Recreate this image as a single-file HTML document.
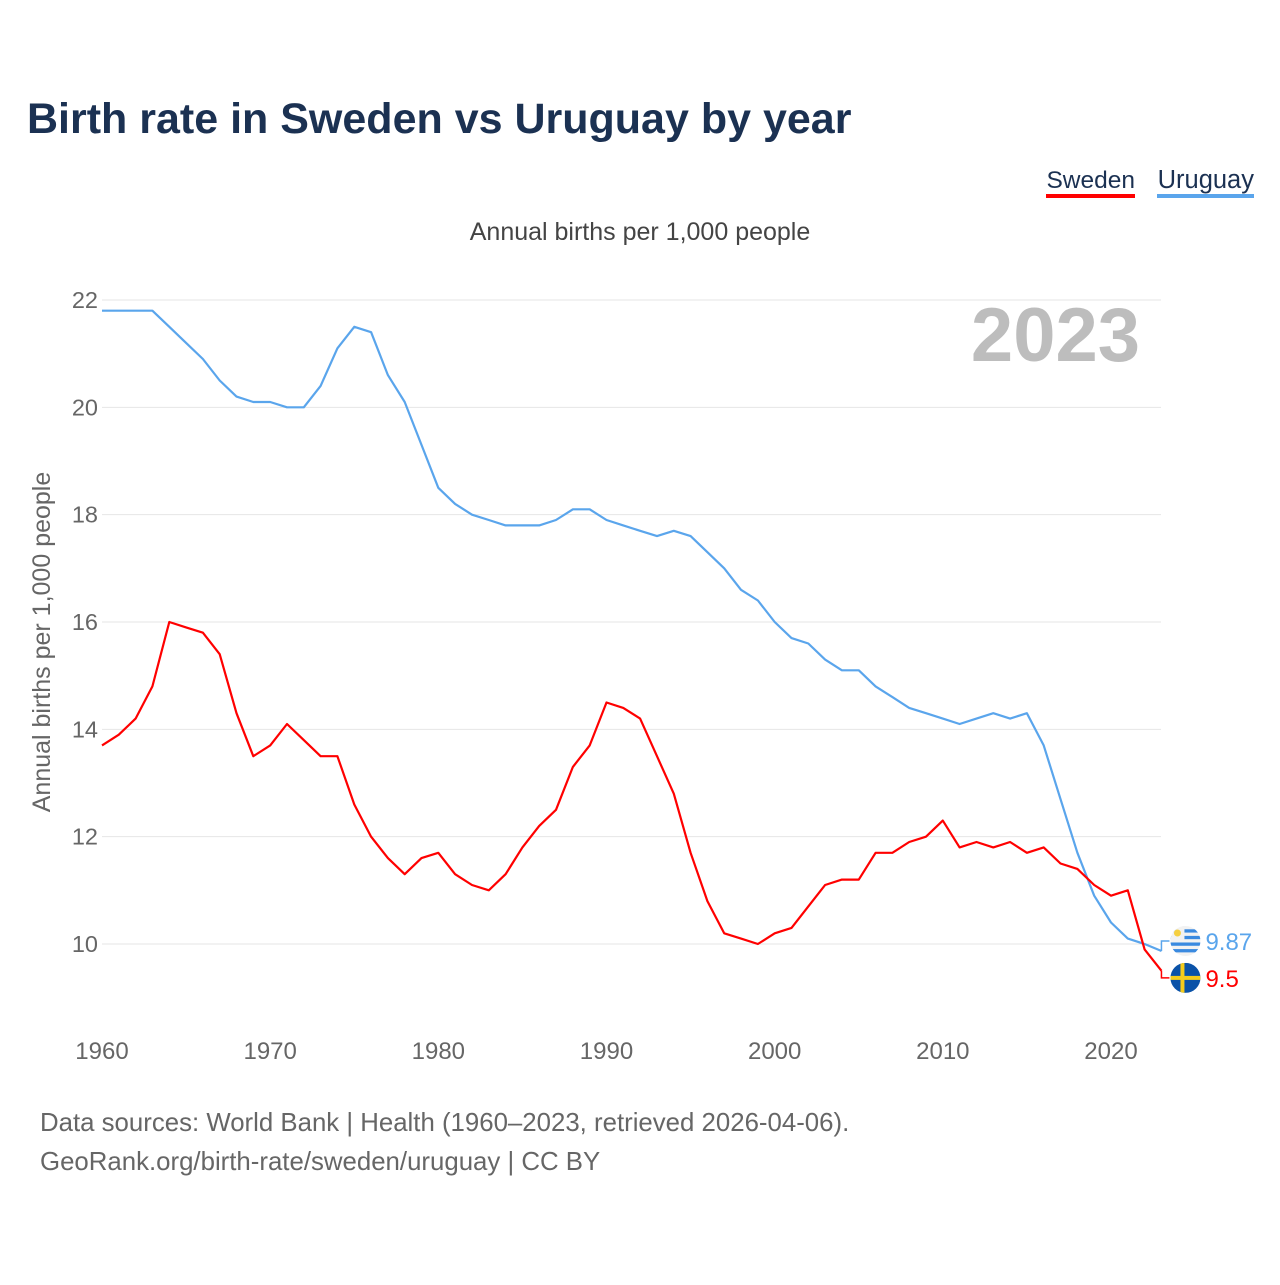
<!DOCTYPE html>
<html><head><meta charset="utf-8"><style>
body{margin:0;background:#fff;font-family:"Liberation Sans",sans-serif}
svg text{font-family:"Liberation Sans",sans-serif}
</style></head><body>
<svg id="chart" width="1280" height="1280" viewBox="0 0 1280 1280">
<text x="27" y="133" font-size="43" font-weight="bold" fill="#1b3152">Birth rate in Sweden vs Uruguay by year</text>
<g><text x="1135" y="188" font-size="24.5" fill="#1b3152" text-anchor="end">Sweden</text><rect x="1046" y="194" width="89" height="4" fill="#ff0000"/></g>
<g><text x="1254" y="188" font-size="25.5" fill="#1b3152" text-anchor="end">Uruguay</text><rect x="1157" y="194" width="97" height="4" fill="#5aa5ec"/></g>
<text x="640" y="240" font-size="25" fill="#444" text-anchor="middle">Annual births per 1,000 people</text>
<text x="1140" y="361" font-size="76" font-weight="bold" fill="#bdbdbd" text-anchor="end">2023</text>
<text transform="translate(50,642) rotate(-90)" font-size="25" fill="#666" text-anchor="middle">Annual births per 1,000 people</text>
<g id="grid"></g><g id="yt"></g><g id="xt"></g><g id="lines"></g>
<text x="40" y="1131" font-size="25.8" fill="#666">Data sources: World Bank | Health (1960–2023, retrieved 2026-04-06).</text>
<text x="40" y="1170" font-size="25.8" fill="#666">GeoRank.org/birth-rate/sweden/uruguay | CC BY</text>
</svg>
<script>
const startYear = 1960;
const sweden = [13.7,13.9,14.2,14.8,16.0,15.9,15.8,15.4,14.3,13.5,13.7,14.1,13.8,13.5,13.5,12.6,12.0,11.6,11.3,11.6,11.7,11.3,11.1,11.0,11.3,11.8,12.2,12.5,13.3,13.7,14.5,14.4,14.2,13.5,12.8,11.7,10.8,10.2,10.1,10.0,10.2,10.3,10.7,11.1,11.2,11.2,11.7,11.7,11.9,12.0,12.3,11.8,11.9,11.8,11.9,11.7,11.8,11.5,11.4,11.1,10.9,11.0,9.9,9.5];
const uruguay = [21.8,21.8,21.8,21.8,21.5,21.2,20.9,20.5,20.2,20.1,20.1,20.0,20.0,20.4,21.1,21.5,21.4,20.6,20.1,19.3,18.5,18.2,18.0,17.9,17.8,17.8,17.8,17.9,18.1,18.1,17.9,17.8,17.7,17.6,17.7,17.6,17.3,17.0,16.6,16.4,16.0,15.7,15.6,15.3,15.1,15.1,14.8,14.6,14.4,14.3,14.2,14.1,14.2,14.3,14.2,14.3,13.7,12.7,11.7,10.9,10.4,10.1,10.0,9.87];
const yTicks = [10,12,14,16,18,20,22];
const xTicks = [1960,1970,1980,1990,2000,2010,2020];
const lastLabels = ["9.5","9.87"];
const NS="http://www.w3.org/2000/svg";
const X=y=>102+(y-1960)*(1111-102)/60;
const Y=v=>944-(v-10)*(944-300)/12;
function mk(t,a,p){const e=document.createElementNS(NS,t);for(const k in a)e.setAttribute(k,a[k]);p.appendChild(e);return e;}
const g=document.getElementById('grid'),yt=document.getElementById('yt'),xt=document.getElementById('xt'),L=document.getElementById('lines');
yTicks.forEach(v=>{
 const l=mk('line',{x1:102,x2:1161,y1:Y(v),y2:Y(v),stroke:'#e6e6e6','stroke-width':1},g);
 
 
 const t=mk('text',{x:98,y:Y(v)+8,'font-size':23.5,fill:'#666','text-anchor':'end'},yt);t.textContent=v;
 
 
});
xTicks.forEach(v=>{
 const t=mk('text',{x:X(v),y:1059,'font-size':24,fill:'#666','text-anchor':'middle'},xt);t.textContent=v;
 
 
});
function line(arr,color,name){
 const pts=arr.map((v,i)=>X(startYear+i).toFixed(1)+','+Y(v).toFixed(1)).join(' ');
 const p=mk('polyline',{points:pts,fill:'none',stroke:color,'stroke-width':2.2,'stroke-linejoin':'round'},L);
 
 
}
line(uruguay,'#5aa5ec','uruguay-line');
line(sweden,'#ff0000','sweden-line');
const lx=X(startYear+sweden.length-1);
const ys=Y(sweden[sweden.length-1]), yu=Y(uruguay[uruguay.length-1]);
const mid=(ys+yu)/2;
const lys=Math.max(ys+5,mid+17), lyu=Math.min(yu-10,mid-18);
mk('polyline',{points:`${lx},${ys} ${lx},${lys} ${lx+8},${lys}`,fill:'none',stroke:'#ff0000','stroke-width':1.5},L);
mk('polyline',{points:`${lx},${yu} ${lx},${lyu} ${lx+8},${lyu}`,fill:'none',stroke:'#5aa5ec','stroke-width':1.5},L);
const fu=mk('g',{},L);


const cpu=mk('clipPath',{id:'cu'},fu);
mk('circle',{cx:lx+24,cy:lyu,r:15},cpu);
const gu=mk('g',{'clip-path':'url(#cu)'},fu);
mk('rect',{x:lx+9,y:lyu-15,width:30,height:30,fill:'#f2f2f2'},gu);
for(let i=0;i<4;i++)mk('rect',{x:lx+9,y:lyu-15+3.3*(2*i+1),width:30,height:3.3,fill:'#3a8ae0'},gu);
mk('rect',{x:lx+9,y:lyu-15,width:14,height:14,fill:'#f2f2f2'},gu);
mk('circle',{cx:lx+16,cy:lyu-8,r:3.5,fill:'#f5cf40'},gu);
const tu=mk('text',{x:lx+44,y:lyu+9,'font-size':24,fill:'#5aa5ec'},L);tu.textContent=lastLabels[1];


const fs=mk('g',{},L);


const cps=mk('clipPath',{id:'cs'},fs);
mk('circle',{cx:lx+24,cy:lys,r:15},cps);
const gs=mk('g',{'clip-path':'url(#cs)'},fs);
mk('rect',{x:lx+9,y:lys-15,width:30,height:30,fill:'#0a52a8'},gs);
mk('rect',{x:lx+9,y:lys-2,width:30,height:4,fill:'#f5cc1b'},gs);
mk('rect',{x:lx+19,y:lys-15,width:4,height:30,fill:'#f5cc1b'},gs);
const ts=mk('text',{x:lx+44,y:lys+9,'font-size':24,fill:'#ff0000'},L);ts.textContent=lastLabels[0];


</script>
</body></html>
